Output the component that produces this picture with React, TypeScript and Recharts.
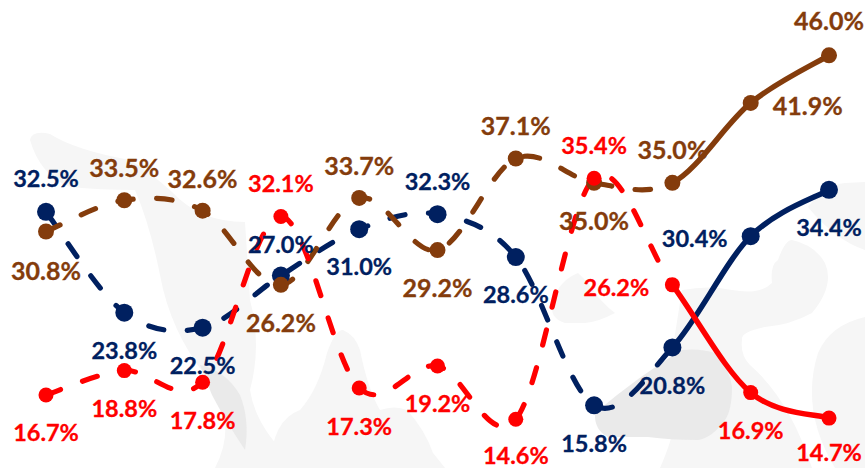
import { LineChart, Line, XAxis, YAxis, LabelList } from "recharts";

const periods = ["1", "2", "3", "4", "5", "6", "7", "8", "9", "10", "11"];
const blueValues = [32.5, 23.8, 22.5, 27.0, 31.0, 32.3, 28.6, 15.8, 20.8, 30.4, 34.4];
const brownValues = [30.8, 33.5, 32.6, 26.2, 33.7, 29.2, 37.1, 35.0, 35.0, 41.9, 46.0];
const redValues = [16.7, 18.8, 17.8, 32.1, 17.3, 19.2, 14.6, 35.4, 26.2, 16.9, 14.7];

// the last two segments of each line are solid, everything before is dashed
const LAST_DASHED = 8;

const BLUE = "#002060";
const BROWN = "#843C0C";
const RED = "#FF0000";

// label offsets from the point, [dx, dy]
const blueOffsets = [[0, -34], [0, 37], [0, 37], [0, -32], [0, 37], [0, -33], [0, 37], [0, 38], [0, 38], [-56, 2], [0, 37]];
const brownOffsets = [[0, 38], [0, -33], [0, -33], [0, 37], [0, -33], [0, 37], [0, -34], [0, 37], [0, -34], [57, 2], [0, -35]];
const redOffsets = [[0, 37], [0, 37], [0, 38], [0, -33], [0, 38], [0, 37], [0, 36], [0, -33], [-56, 2], [0, 37], [0, 34]];

const data = periods.map((period, i) => ({
  period,
  blue: blueValues[i],
  brown: brownValues[i],
  red: redValues[i],
}));

// faint map shapes behind the chart
const lightShapes = [
  "M30 140 Q32 130 50 134 Q75 150 130 160 Q150 172 172 192 Q200 222 245 222 L250 300 Q262 345 250 390 Q256 430 300 468 L215 468 Q240 420 205 375 Q170 330 160 275 Q150 225 135 190 Q100 190 70 187 Q40 175 30 140 Z",
  "M682 290 Q710 285 732 290 Q760 295 772 283 Q770 265 778 260 Q785 240 792 240 Q815 245 825 263 Q835 285 812 313 Q790 325 765 327 Q740 332 742 340 Q740 355 750 365 Q790 400 812 468 L660 468 Q690 400 672 353 Z",
  "M808 207 Q825 185 845 183 L865 182 L865 468 L835 468 Q800 410 818 353 Q830 325 865 317 L865 250 Q835 240 808 207 Z",
  "M270 468 Q272 420 300 410 Q318 390 327 353 Q335 330 343 330 Q355 335 360 350 Q368 390 380 410 Q395 405 407 410 Q425 430 433 453 L445 468 Z",
  "M565 323 Q548 318 553 300 Q560 280 578 273 Q588 282 598 297 Q608 308 615 313 Q598 322 585 323 Z",
];
const darkShapes = [
  "M595 413 Q640 375 682 350 Q700 348 715 353 Q730 370 732 387 Q732 410 725 420 Q712 438 698 440 Q670 440 648 437 Q625 437 608 437 Q594 430 595 413 Z",
  "M200 365 Q225 370 240 395 Q250 420 245 450 Q225 420 212 395 Z",
];

// Office style smoothed line: catmull-rom tangents over all the points,
// but only the segments between from and to get drawn
const officeCurve = (from: number, to: number) => (ctx: any) => {
  let pts: number[][] = [];
  return {
    areaStart() {},
    areaEnd() {},
    lineStart() {
      pts = [];
    },
    point(x: number, y: number) {
      pts.push([+x, +y]);
    },
    lineEnd() {
      if (!pts.length) return;
      ctx.moveTo(pts[from][0], pts[from][1]);
      for (let i = from; i < to; i++) {
        const p0 = pts[Math.max(i - 1, 0)];
        const p1 = pts[i];
        const p2 = pts[i + 1];
        const p3 = pts[Math.min(i + 2, pts.length - 1)];
        ctx.bezierCurveTo(
          p1[0] + (p2[0] - p0[0]) / 6,
          p1[1] + (p2[1] - p0[1]) / 6,
          p2[0] - (p3[0] - p1[0]) / 6,
          p2[1] - (p3[1] - p1[1]) / 6,
          p2[0],
          p2[1]
        );
      }
    },
  };
};

const dashedCurve = officeCurve(0, LAST_DASHED);
const solidCurve = officeCurve(LAST_DASHED, periods.length - 1);

const makeLabel = (color: string, offsets: number[][], size: number) => (props: any) => {
  const { x, y, value, index } = props;
  const [dx, dy] = offsets[index];
  return (
    <text
      x={x + dx}
      y={y + dy}
      fill={color}
      stroke={color}
      strokeWidth={0.3}
      fontFamily="Lato, Carlito, sans-serif"
      fontWeight={700}
      fontSize={size}
      textAnchor="middle"
      dominantBaseline="central"
    >
      {Number(value).toFixed(1)}%
    </text>
  );
};

const series = [
  { key: "blue", color: BLUE, r: 9, offsets: blueOffsets, size: 23.5 },
  { key: "brown", color: BROWN, r: 8, offsets: brownOffsets, size: 25 },
  { key: "red", color: RED, r: 7.5, offsets: redOffsets, size: 23.5 },
];

export default function App() {
  return (
    <div style={{ position: "absolute", left: 0, top: 0, width: 865, height: 468, overflow: "hidden" }}>
      <svg width={865} height={468} style={{ position: "absolute", left: 0, top: 0 }}>
        {lightShapes.map((d) => (
          <path key={d} d={d} fill="#F6F6F6" />
        ))}
        {darkShapes.map((d) => (
          <path key={d} d={d} fill="#EAEAEA" />
        ))}
      </svg>
      <div style={{ position: "absolute", left: 0, top: 0 }}>
        <LineChart width={865} height={468} data={data} margin={{ top: 9, right: 36, bottom: 7, left: 46 }}>
          <XAxis dataKey="period" hide padding={{ left: 0, right: 0 }} />
          <YAxis hide domain={[11, 50]} />
          {series.map((s) => (
            <Line
              key={s.key + "Dash"}
              dataKey={s.key}
              type={dashedCurve as any}
              stroke={s.color}
              strokeWidth={5.2}
              strokeDasharray="15.5 23.5"
              strokeLinecap="round"
              dot={false}
              isAnimationActive={false}
            />
          ))}
          {series.map((s) => (
            <Line
              key={s.key + "Solid"}
              dataKey={s.key}
              type={solidCurve as any}
              stroke={s.color}
              strokeWidth={5.5}
              strokeLinecap="round"
              dot={false}
              isAnimationActive={false}
            />
          ))}
          {series.map((s) => (
            <Line
              key={s.key}
              dataKey={s.key}
              stroke="none"
              dot={{ r: s.r, fill: s.color, stroke: "none" }}
              isAnimationActive={false}
            >
              <LabelList dataKey={s.key} content={makeLabel(s.color, s.offsets, s.size)} />
            </Line>
          ))}
        </LineChart>
      </div>
    </div>
  );
}
